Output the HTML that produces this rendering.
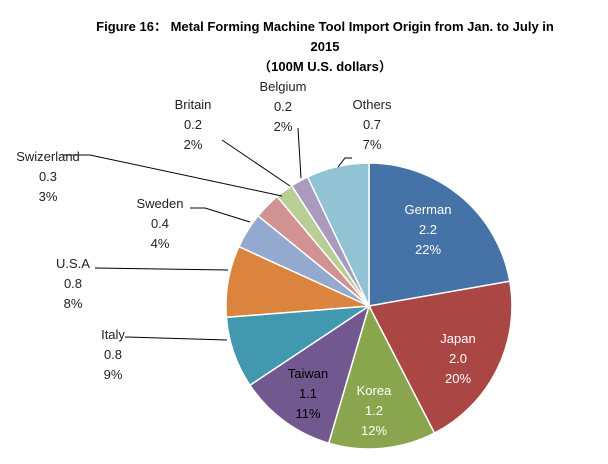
<!DOCTYPE html>
<html><head><meta charset="utf-8"><style>
body{margin:0;background:#fff;}
svg{display:block;font-family:"Liberation Sans","Noto Sans CJK SC",sans-serif;}
.t{font-weight:bold;font-size:13px;fill:#000;}
.l{font-size:13px;fill:#222;}
.w{font-size:13px;fill:#fff;}
.k{font-size:13px;fill:#000;}
</style></head><body>
<svg width="608" height="464" viewBox="0 0 608 464">
<rect width="608" height="464" fill="#fff"/>
<text class="t" x="325" y="31" text-anchor="middle">Figure 16：  Metal Forming Machine Tool Import Origin from Jan. to July in</text>
<text class="t" x="325" y="51" text-anchor="middle">2015</text>
<text class="t" x="325" y="71" text-anchor="middle">（100M U.S. dollars）</text>
<g stroke="#fff" stroke-width="1.5">
<path d="M369,306 L369,163 A143,143 0 0 1 509.8,281.2 Z" fill="#4572A7"/>
<path d="M369,306 L509.8,281.2 A143,143 0 0 1 434.5,433.1 Z" fill="#AA4643"/>
<path d="M369,306 L434.5,433.1 A143,143 0 0 1 328.7,443.2 Z" fill="#89A54E"/>
<path d="M369,306 L328.7,443.2 A143,143 0 0 1 249.9,385.2 Z" fill="#71588F"/>
<path d="M369,306 L249.9,385.2 A143,143 0 0 1 226.4,317.3 Z" fill="#4198AF"/>
<path d="M369,306 L226.4,317.3 A143,143 0 0 1 238.9,246.6 Z" fill="#DB843D"/>
<path d="M369,306 L238.9,246.6 A143,143 0 0 1 258.1,215.8 Z" fill="#93A9CF"/>
<path d="M369,306 L258.1,215.8 A143,143 0 0 1 277.1,196.5 Z" fill="#D09392"/>
<path d="M369,306 L277.1,196.5 A143,143 0 0 1 291.7,185.7 Z" fill="#B9CD96"/>
<path d="M369,306 L291.7,185.7 A143,143 0 0 1 307.6,176.9 Z" fill="#A99BBD"/>
<path d="M369,306 L307.6,176.9 A143,143 0 0 1 369,163 Z" fill="#92C3D4"/>
</g>
<g stroke="#000" stroke-width="1" fill="none">
<polyline points="62,155 90,155 282,196"/>
<polyline points="190,208 205,208 250,222"/>
<polyline points="95,268 228,270"/>
<polyline points="125,337 227,340"/>
<polyline points="222,140 290,186"/>
<polyline points="298,128 301,178"/>
<polyline points="352,158 345,158 338,167"/>
</g>
<g class="w" text-anchor="middle">
<text x="428" y="214">German</text><text x="428" y="234">2.2</text><text x="428" y="254">22%</text>
<text x="458" y="343">Japan</text><text x="458" y="363">2.0</text><text x="458" y="383">20%</text>
<text x="374" y="395">Korea</text><text x="374" y="415">1.2</text><text x="374" y="435">12%</text>
</g>
<g class="k" text-anchor="middle">
<text x="308" y="378">Taiwan</text><text x="308" y="398">1.1</text><text x="308" y="418">11%</text>
</g>
<g class="l" text-anchor="middle">
<text x="113" y="339">Italy</text><text x="113" y="359">0.8</text><text x="113" y="379">9%</text>
<text x="73" y="268">U.S.A</text><text x="73" y="288">0.8</text><text x="73" y="308">8%</text>
<text x="160" y="208">Sweden</text><text x="160" y="228">0.4</text><text x="160" y="248">4%</text>
<text x="48" y="161">Swizerland</text><text x="48" y="181">0.3</text><text x="48" y="201">3%</text>
<text x="193" y="109">Britain</text><text x="193" y="129">0.2</text><text x="193" y="149">2%</text>
<text x="283" y="91">Belgium</text><text x="283" y="111">0.2</text><text x="283" y="131">2%</text>
<text x="372" y="109">Others</text><text x="372" y="129">0.7</text><text x="372" y="149">7%</text>
</g>
</svg>
</body></html>
